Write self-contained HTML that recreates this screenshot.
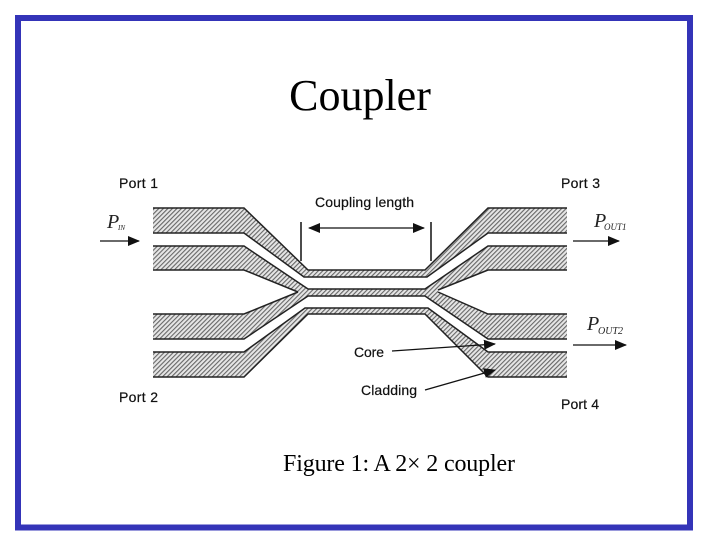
<!DOCTYPE html>
<html><head><meta charset="utf-8"><style>
html,body{margin:0;padding:0;background:#fff}
svg{display:block}
.t{font-family:"Liberation Serif",serif;fill:#000}
.s{font-family:"Liberation Sans",sans-serif;font-size:14px;fill:#111;stroke:#111;stroke-width:.2px}
.p{font-family:"Liberation Serif",serif;font-style:italic;fill:#222}
</style></head><body>
<svg width="720" height="540" viewBox="0 0 720 540" xmlns="http://www.w3.org/2000/svg">
<defs>
<pattern id="h" width="3.2" height="3.2" patternUnits="userSpaceOnUse" patternTransform="rotate(45)">
<rect width="3.2" height="3.2" fill="#e6e6e6"/><rect width="1.1" height="3.2" fill="#666"/>
</pattern>
<marker id="a" markerWidth="12" markerHeight="10" refX="11" refY="5" orient="auto-start-reverse" markerUnits="userSpaceOnUse"><path d="M0 0L12 5L0 10Z" fill="#111"/></marker>
</defs>
<rect x="18" y="18" width="672" height="509.500" fill="#fff" stroke="#3434b8" stroke-width="6"/>
<text class="t" x="360" y="110" font-size="44" text-anchor="middle">Coupler</text>
<text class="t" x="283" y="471" font-size="24" textLength="232" lengthAdjust="spacing">Figure 1: A 2× 2 coupler</text>
<g fill="url(#h)" stroke="none">
<path d="M153 208H244L308 270H425L488 208H567V233H488L427 277H304L244 233H153Z"/>
<path d="M153 246H244L308 289H425L488 246H567V270H488L438 290V292L488 314H567V339H488L425 296H308L244 339H153V314H244L298 292L244 270H153Z"/>
<path d="M153 352H244L305 308H428L488 352H567V377H488L425 314H308L244 377H153Z"/>
</g>
<g fill="none" stroke="#222" stroke-width="1.500">
<path d="M153 208H244L308 270H425L488 208H567"/>
<path d="M153 233H244L304 277H427L488 233H567"/>
<path d="M153 246H244L308 289H425L488 246H567"/>
<path d="M153 270H244L298 292"/>
<path d="M488 270H567M438 290L488 270"/>
<path d="M153 314H244L298 292M438 292L488 314H567"/>
<path d="M153 339H244L308 296H425L488 339H567"/>
<path d="M153 352H244L305 308H428L488 352H567"/>
<path d="M153 377H244L308 314H425L488 377H567"/>
</g>
<g stroke="#111" stroke-width="1.300" fill="none">
<path d="M301 222V261M431 222V261" stroke-width="1.500"/>
<path d="M309 228H424" marker-start="url(#a)" marker-end="url(#a)"/>
<path d="M100 241H139" marker-end="url(#a)"/>
<path d="M573 241H619" marker-end="url(#a)"/>
<path d="M573 345H626" marker-end="url(#a)"/>
<path d="M392 351L495 344" marker-end="url(#a)"/>
<path d="M425 390L495 370" marker-end="url(#a)"/>
</g>
<text class="s" x="119" y="188" textLength="39">Port 1</text>
<text class="s" x="561" y="188" textLength="39">Port 3</text>
<text class="s" x="119" y="402" textLength="39">Port 2</text>
<text class="s" x="561" y="409" textLength="38">Port 4</text>
<text class="s" x="315" y="207" textLength="99">Coupling length</text>
<text class="s" x="354" y="357" textLength="30">Core</text>
<text class="s" x="361" y="395" textLength="56">Cladding</text>
<text class="p" x="107" y="228" font-size="20">P</text><text class="p" x="118" y="230" font-size="7">IN</text>
<text class="p" x="594" y="227" font-size="20">P</text><text class="p" x="604" y="230" font-size="9">OUT1</text>
<text class="p" x="587" y="330" font-size="20">P</text><text class="p" x="598" y="334" font-size="10">OUT2</text>
</svg>
</body></html>
